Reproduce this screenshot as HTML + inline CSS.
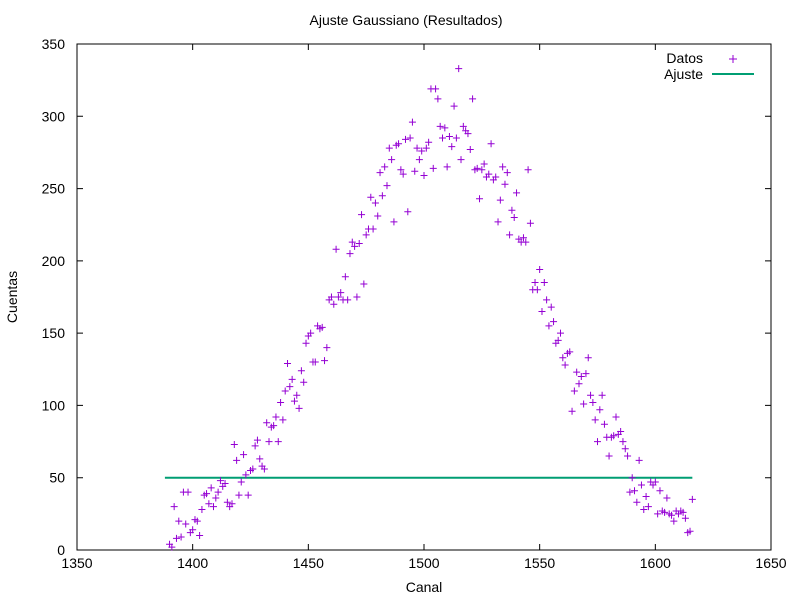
<!DOCTYPE html>
<html><head><meta charset="utf-8"><style>body{margin:0;background:#fff}svg{display:block;font-family:"Liberation Sans",sans-serif}</style></head>
<body>
<svg id="chart" width="800" height="600" viewBox="0 0 800 600" xmlns="http://www.w3.org/2000/svg">
<rect width="800" height="600" fill="#fff"/>
<text x="406" y="25" font-size="14" text-anchor="middle">Ajuste Gaussiano (Resultados)</text>
<text x="424" y="592" font-size="14" text-anchor="middle">Canal</text>
<text transform="translate(17,297) rotate(-90)" font-size="14" text-anchor="middle">Cuentas</text>
<g id="axes"></g>
<g id="marks"></g>
<g>
<text x="703" y="63" font-size="14" text-anchor="end">Datos</text>
<path d="M729 59h8M733 55v8" stroke="#9400d3" stroke-width="1"/>
<text x="703" y="79" font-size="14" text-anchor="end">Ajuste</text>
<line x1="712" y1="74" x2="754" y2="74" stroke="#009e73" stroke-width="2"/>
</g>
</svg>
<script>
const xTicks = [1350,1400,1450,1500,1550,1600,1650];
const yTicks = [0,50,100,150,200,250,300,350];
const firstChannel = 1390;
const counts = [4,2,30,8,20,9,40,18,40,12,14,21,20,10,28,38,39,32,43,30,36,40,48,44,46,33,30,32,73,62,38,47,66,52,38,55,56,72,76,63,58,56,88,75,85,86,92,75,102,90,110,129,113,118,103,107,98,124,116,143,148,150,130,130,155,153,154,131,140,173,175,170,208,175,178,173,189,173,205,213,210,175,212,232,184,218,222,244,222,240,231,261,245,265,252,278,270,227,280,281,263,260,284,234,285,296,262,278,270,276,259,278,282,319,264,319,312,293,285,292,265,286,279,307,285,333,270,293,290,288,277,312,263,264,243,263,267,258,260,281,256,258,227,242,265,253,261,218,235,230,247,215,213,216,213,263,226,180,185,180,194,165,185,173,155,168,158,143,145,150,133,
128,136,137,96,110,123,115,120,101,122,133,107,102,90,75,97,107,87,78,65,78,79,92,80,82,75,70,65,40,50,41,33,62,45,28,37,30,47,45,47,25,41,27,26,36,25,24,20,27,25,27,26,22,12,13,35];
const fitLevel = [50];
const fitRange = [1388,1616];

const L=77,R=771,T=44,B=550;
const sx=v=>L+(v-1350)/(300)*(R-L);
const sy=v=>B-(v/350)*(B-T);
const NS="http://www.w3.org/2000/svg";
function mk(tag,attrs,parent){const e=document.createElementNS(NS,tag);for(const k in attrs)e.setAttribute(k,attrs[k]);parent.appendChild(e);return e;}
const axes=document.getElementById('axes'), marks=document.getElementById('marks');
const frame=mk('rect',{x:L,y:T,width:R-L,height:B-T,fill:'none',stroke:'#000','stroke-width':1},axes);


xTicks.forEach(v=>{
  const x=sx(v);
  const t=mk('path',{d:`M${x} ${B}v-6M${x} ${T}v6`,stroke:'#000','stroke-width':1},axes);
  
  
  const l=mk('text',{x:x,y:B+18,'font-size':14,'text-anchor':'middle'},axes);
  l.textContent=v;
  
  
});
yTicks.forEach(v=>{
  const y=sy(v);
  const t=mk('path',{d:`M${L} ${y}h6M${R} ${y}h-6`,stroke:'#000','stroke-width':1},axes);
  
  
  const l=mk('text',{x:L-12,y:y+5,'font-size':14,'text-anchor':'end'},axes);
  l.textContent=v;
  
  
});
const fit=mk('line',{x1:sx(fitRange[0]),x2:sx(fitRange[1]),y1:sy(fitLevel[0]),y2:sy(fitLevel[0]),stroke:'#009e73','stroke-width':2},marks);


counts.forEach((c,i)=>{
  const x=sx(firstChannel+i), y=sy(c);
  const p=mk('path',{d:`M${x-3.5} ${y}h7M${x} ${y-3.5}v7`,stroke:'#9400d3','stroke-width':1},marks);
  
  
});
</script>
</body></html>
